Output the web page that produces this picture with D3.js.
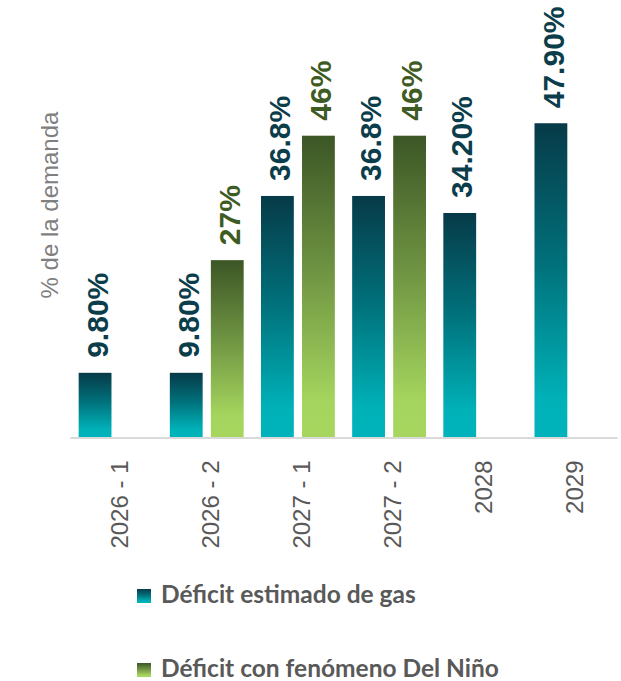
<!DOCTYPE html>
<html>
<head>
<meta charset="utf-8">
<script src="https://cdn.jsdelivr.net/npm/d3@7"></script>
<style>
  html, body { margin: 0; padding: 0; background: #ffffff; }
  svg { display: block; }
  .arial { font-family: Arial, "Liberation Sans", Helvetica, sans-serif; }
</style>
</head>
<body>
<svg id="chart" width="621" height="681"></svg>
<script>
const categories = ["2026 - 1", "2026 - 2", "2027 - 1", "2027 - 2", "2028", "2029"];
const seriesKeys = ["gas", "nino"];
const seriesNames = ["Déficit estimado de gas", "Déficit con fenómeno Del Niño"];
const gasValues = [9.8, 9.8, 36.8, 36.8, 34.2, 47.9];
const ninoValues = [null, 27, 46, 46, null, null];
const gasLabels = ["9.80%", "9.80%", "36.8%", "36.8%", "34.20%", "47.90%"];
const ninoLabels = [null, "27%", "46%", "46%", null, null];
const yTitle = "% de la demanda";

const svg = d3.select("#chart");
const baseY = 437;

const x0 = d3.scaleBand().domain(categories).range([70, 617]).paddingInner(0.19).paddingOuter(0.095);
const x1 = d3.scaleBand().domain(seriesKeys).range([0, x0.bandwidth()]).paddingInner(0.2);
const y = d3.scaleLinear().domain([0, 60]).range([baseY, baseY - 393]);

const defs = svg.append("defs");
const grads = {
  gas: [["0%", "#073a48"], ["45%", "#00717b"], ["88%", "#00b1b8"], ["100%", "#00b3ba"]],
  nino: [["0%", "#3c5626"], ["45%", "#6f9442"], ["88%", "#a5d55e"], ["100%", "#a7d65f"]]
};
Object.entries(grads).forEach(([k, stops]) => {
  const g = defs.append("linearGradient").attr("id", "grad-" + k)
    .attr("x1", 0).attr("y1", 0).attr("x2", 0).attr("y2", 1);
  stops.forEach(s => g.append("stop").attr("offset", s[0]).attr("stop-color", s[1]));
});

const labelColor = { gas: "#0b3d4b", nino: "#3e5b23" };

const rows = categories.map((c, i) => ({
  cat: c,
  items: [
    { key: "gas", value: gasValues[i], label: gasLabels[i] },
    { key: "nino", value: ninoValues[i], label: ninoLabels[i] }
  ].filter(d => d.value != null)
}));

const groups = svg.append("g").selectAll("g").data(rows).join("g")
  .attr("transform", d => `translate(${x0(d.cat)},0)`);

groups.selectAll("rect").data(d => d.items).join("rect")
  .attr("x", d => x1(d.key))
  .attr("y", d => y(d.value))
  .attr("width", x1.bandwidth())
  .attr("height", d => y(0) - y(d.value))
  .attr("fill", d => `url(#grad-${d.key})`);

groups.selectAll("text").data(d => d.items).join("text")
  .attr("class", "arial")
  .attr("transform", d => `translate(${x1(d.key) + x1.bandwidth() / 2},${y(d.value) - 15}) rotate(-90)`)
  .attr("dy", "0.42em")
  .attr("text-anchor", "start")
  .attr("font-weight", "bold")
  .attr("font-size", 30)
  .attr("fill", d => labelColor[d.key])
  .text(d => d.label);

// X axis
const xAxis = svg.append("g")
  .attr("transform", `translate(0,${baseY + 0.5})`)
  .call(d3.axisBottom(x0).tickSize(0).tickSizeOuter(0));
xAxis.attr("font-family", null).attr("font-size", null);
xAxis.select(".domain").attr("stroke", "#d9d9d9").attr("stroke-width", 2);
xAxis.selectAll("text")
  .attr("class", "arial")
  .attr("transform", "rotate(-90)")
  .attr("x", -23)
  .attr("y", 0)
  .attr("dy", "0.5em")
  .attr("text-anchor", "end")
  .attr("font-size", 24)
  .attr("fill", "#595959");

// Y title
svg.append("text")
  .attr("class", "arial")
  .attr("transform", "translate(58,205) rotate(-90)")
  .attr("text-anchor", "middle")
  .attr("font-size", 24)
  .attr("fill", "#7f7f7f")
  .text(yTitle);

// Legend
const legend = svg.append("g").selectAll("g").data(seriesKeys).join("g")
  .attr("transform", (d, i) => `translate(137,${589 + i * 74})`);
legend.append("rect")
  .attr("width", 14).attr("height", 14)
  .attr("fill", d => `url(#grad-${d})`);
legend.append("text")
  .attr("x", 24).attr("y", 14)
  .attr("font-family", "Lato, 'Open Sans', sans-serif")
  .attr("font-weight", "bold")
  .attr("font-size", 24.5)
  .attr("fill", "#595959")
  .text((d, i) => seriesNames[i]);
</script>
</body>
</html>
